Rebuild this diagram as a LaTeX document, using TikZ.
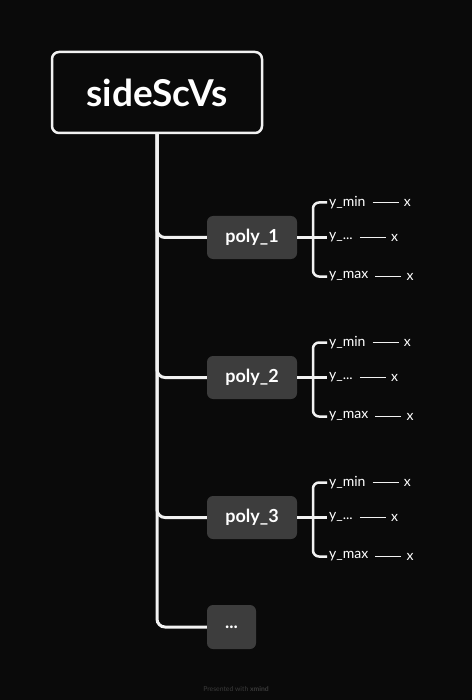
\documentclass[tikz,border=0pt]{standalone}
\usepackage{fontspec}
\setmainfont{Lato}
\usetikzlibrary{positioning}
\definecolor{bgdark}{HTML}{0A0A0A}
\definecolor{topicgray}{HTML}{3D3D3D}
\definecolor{linewhite}{HTML}{F2F2F2}
\definecolor{creditgray}{HTML}{3A3A3A}
\tikzset{%
  root/.style={draw=linewhite, line width=2.5pt, fill=bgdark, rounded corners=7pt,
    minimum width=210pt, minimum height=81pt, text=white,
    font=\fontsize{37}{40}\selectfont\bfseries},
  topic/.style={fill=topicgray, rounded corners=6pt, minimum height=43pt, text=white,
    font=\fontsize{18}{20}\selectfont\bfseries},
  leaf/.style={inner xsep=2pt, inner ysep=2pt, text=white, anchor=west,
    font=\fontsize{14}{16}\selectfont},
  xmark/.style={inner xsep=5pt, inner ysep=2pt, text=white,
    font=\fontsize{14}{16}\selectfont},
  trunk/.style={draw=linewhite, line width=3pt, rounded corners=8pt},
  twig/.style={draw=linewhite, line width=2.5pt, rounded corners=6pt},
  thin line/.style={draw=linewhite, line width=1.4pt, shorten <=5pt}
}
\begin{document}
\begin{tikzpicture}[x=1pt, y=-1pt]
  \fill[bgdark] (0,0) rectangle (472,700);
  \useasboundingbox (0,0) rectangle (472,700);

  \node[root] (side) at (157,92.5) {sideScVs};

  % polygons
  \foreach \i/\y in {1/237.5,2/377.5,3/517.5}{
    \node[topic, minimum width=90pt] (poly\i) at (252,\y) {poly\_\i};
    \draw[trunk] (side.south) |- (poly\i.west);

    \coordinate (brace\i) at (313,\y);
    \node[leaf] (ymin\i) at (327,\y-35) {y\_min};
    \node[leaf] (ymid\i) at (327,\y) {y\_...};
    \node[leaf] (ymax\i) at (327,\y+39) {y\_max};

    \draw[twig] (ymin\i.west) -| (brace\i) |- (ymax\i.west);
    \draw[twig] (poly\i.east) -- (ymid\i.west);

    \node[xmark, right=31pt of ymin\i] (xmin\i) {x};
    \node[xmark, right=31pt of ymid\i] (xmid\i) {x};
    \node[xmark, right=31pt of ymax\i] (xmax\i) {x};
    \draw[thin line] (ymin\i.east) -- (xmin\i.west);
    \draw[thin line] (ymid\i.east) -- (xmid\i.west);
    \draw[thin line] (ymax\i.east) -- (xmax\i.west);
  }

  \node[topic, minimum width=49pt, minimum height=44pt] (more) at (231.5,627) {...};
  \draw[trunk] (side.south) |- (more.west);

  % \node at (236,689) {watermark};
  \node[text=creditgray, font=\fontsize{6.8}{7}\selectfont] (credit) at (236,689)
    {Presented with \textbf{xmind}};
\end{tikzpicture}
\end{document}
